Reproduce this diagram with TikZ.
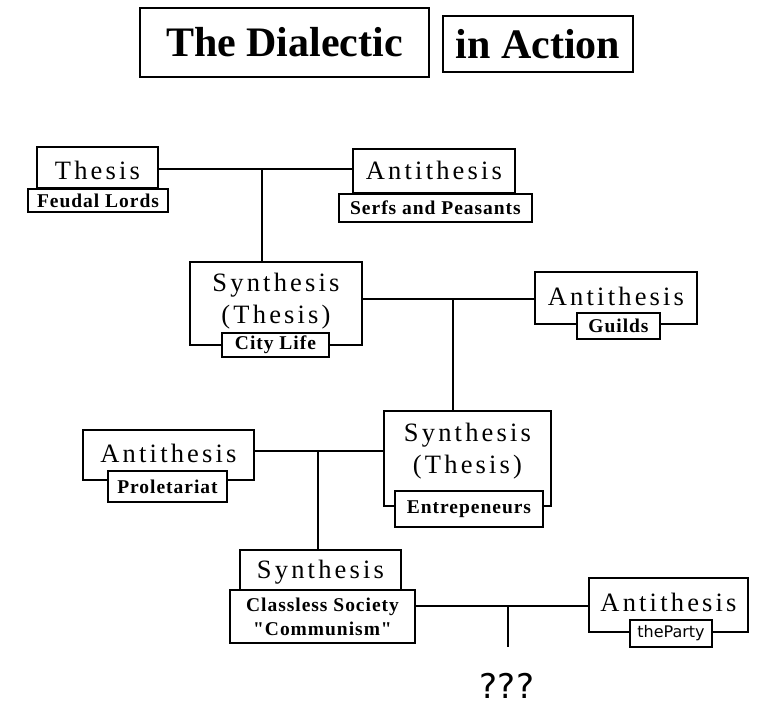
\documentclass[tikz,border=0pt]{standalone}
\usepackage{fontspec}
\setmainfont{Liberation Serif}
\newfontfamily\mainlab{Liberation Serif}[LetterSpace=12]
\newfontfamily\sublab{Liberation Serif}[LetterSpace=5]
\newfontfamily\qfont{DejaVu Sans}
\tikzset{
  boxline/.style={draw=black, line width=1.5pt, fill=white, inner sep=0pt},
  mainbox/.style={boxline},
  maintext/.style={inner sep=0pt, align=center, font=\mainlab\fontsize{26.5}{32}\selectfont},
  subbox/.style={boxline, align=center, font=\sublab\bfseries\fontsize{19.5}{22}\selectfont},
  titlebox/.style={draw=black, line width=2pt, fill=white, inner sep=0pt, font=\bfseries\fontsize{42}{48}\selectfont},
  link/.style={draw=black, line width=1.5pt},
}
\begin{document}
\begin{tikzpicture}[x=1pt,y=-1pt]
\useasboundingbox[fill=white] (0,0) rectangle (767,709);

% titles
\node[titlebox, minimum width=289pt, minimum height=69pt] (title1) at (284.5,42.5) {The Dialectic};
\node[titlebox, minimum width=190pt, minimum height=56pt] (title2) at (538,44) {in Action};

% junction coordinates
\coordinate (j1) at (262,169);
\coordinate (j2) at (453,299);
\coordinate (j3) at (318,451);
\coordinate (j4) at (508,606);
\coordinate (open) at (508,647);

% main boxes
\node[mainbox, minimum width=121pt, minimum height=41pt] (thesis) at (97.5,167.5) {};
\node[mainbox, minimum width=162pt, minimum height=44pt] (anti1) at (434,171) {};
\node[mainbox, minimum width=172pt, minimum height=83pt] (synth1) at (276,303.5) {};
\node[mainbox, minimum width=162pt, minimum height=52pt] (anti2) at (616,298) {};
\node[mainbox, minimum width=171pt, minimum height=50pt] (anti3) at (168.5,455) {};
\node[mainbox, minimum width=167pt, minimum height=95pt] (synth2) at (467.5,458.5) {};
\node[mainbox, minimum width=161pt, minimum height=44pt] (synth3) at (320.5,572) {};
\node[mainbox, minimum width=159pt, minimum height=54pt] (anti4) at (668.5,605) {};

% connectors
\draw[link] (j1 -| thesis.east) -- (j1 -| anti1.west);
\draw[link] (j1) -- (j1 |- synth1.north);
\draw[link] (j2 -| synth1.east) -- (j2 -| anti2.west);
\draw[link] (j2) -- (j2 |- synth2.north);
\draw[link] (j3 -| anti3.east) -- (j3 -| synth2.west);
\draw[link] (j3) -- (j3 |- synth3.north);

% main texts
\node[maintext] (thesisT) at (97.5,170) {Thesis};
\node[maintext] (anti1T) at (434,170) {Antithesis};
\node[maintext] (synth1T) at (276,301) {Synthesis\\(Thesis)};
\node[maintext] (anti2T) at (616,296) {Antithesis};
\node[maintext] (anti3T) at (168.5,453) {Antithesis};
\node[maintext] (synth2T) at (467.5,451) {Synthesis\\(Thesis)};
\node[maintext] (synth3T) at (320.5,572) {Synthesis};
\node[maintext] (anti4T) at (668.5,602) {Antithesis};

% sub boxes
\node[subbox, minimum width=140pt, minimum height=23pt] (feudal) at (98,200.5) {Feudal Lords};
\node[subbox, minimum width=193pt, minimum height=28pt] (serfs) at (435.5,208) {Serfs and Peasants};
\node[subbox, minimum width=107pt, minimum height=24pt] (city) at (275.5,345) {City Life};
\node[subbox, minimum width=83pt, minimum height=26pt] (guilds) at (618.5,326) {Guilds};
\node[subbox, minimum width=119pt, minimum height=31pt] (prol) at (167.5,486.5) {Proletariat};
\node[subbox, minimum width=148pt, minimum height=36pt] (entre) at (469,509) {Entrepeneurs};
\node[subbox, minimum width=185pt, minimum height=53pt, font=\sublab\bfseries\fontsize{19.5}{24}\selectfont] (class) at (322.5,616.5) {Classless Society\\"Communism"};
\node[subbox, minimum width=82pt, minimum height=27pt, font=\qfont\fontsize{16}{18}\selectfont] (party) at (671,633.5) {theParty};

% last connectors
\draw[link] (j4 -| class.east) -- (j4 -| anti4.west);
\draw[link] (j4) -- (open);

\node[font=\qfont\fontsize{34}{40}\selectfont, inner sep=0pt] (qq) at (507,686) {???};
\end{tikzpicture}
\end{document}
